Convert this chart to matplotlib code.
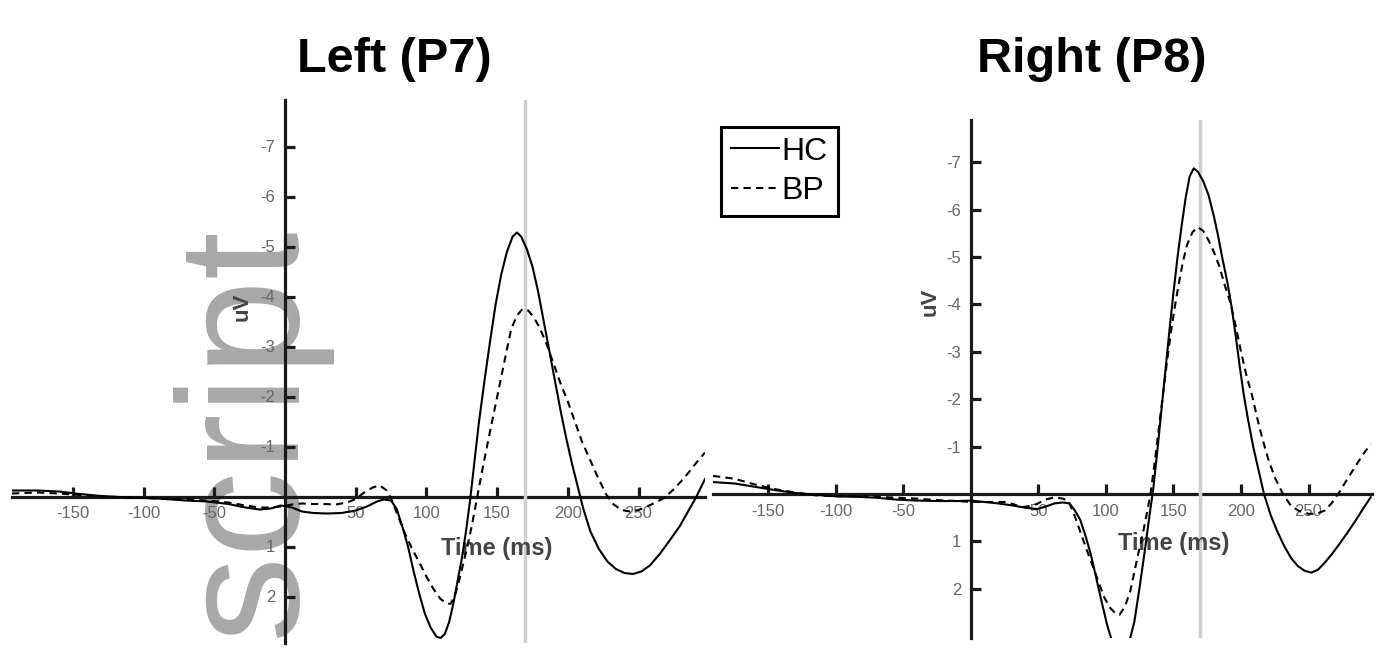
import matplotlib
matplotlib.use("Agg")
import matplotlib.pyplot as plt
from matplotlib.lines import Line2D

plt.rcParams['font.family'] = ['Liberation Sans', 'DejaVu Sans']
plt.rcParams['axes.unicode_minus'] = False

# time (ms) and amplitude (uV)
left_hc_t = [-193, -175, -160, -145, -130, -110, -90, -70, -55, -40, -28, -18, -10, -3, 5, 12, 20, 30, 40, 50,
             58, 65, 70, 75, 79, 83, 87, 91, 95, 99, 103, 107, 110, 113, 116, 119, 122, 125, 128, 131,
             134, 137, 141, 145, 149, 153, 157, 161, 164, 167, 171, 175, 179, 183, 187, 191, 195, 199, 203, 207,
             211, 216, 222, 228, 234, 240, 246, 252, 258, 265, 272, 279, 285, 291, 297]
left_hc_v = [-0.12, -0.12, -0.1, -0.05, -0.01, 0.02, 0.04, 0.08, 0.1, 0.15, 0.22, 0.26, 0.24, 0.18, 0.22, 0.3, 0.33, 0.34, 0.33, 0.28,
             0.2, 0.1, 0.06, 0.08, 0.25, 0.6, 1.0, 1.5, 1.95, 2.35, 2.62, 2.8, 2.83, 2.75, 2.52, 2.15, 1.7, 1.25, 0.7, 0.05,
             -0.7, -1.45, -2.3, -3.1, -3.85, -4.45, -4.9, -5.2, -5.28, -5.2, -4.95, -4.6, -4.1, -3.5, -2.9, -2.3, -1.7, -1.15, -0.65, -0.2,
             0.25, 0.7, 1.05, 1.3, 1.45, 1.53, 1.55, 1.5, 1.38, 1.15, 0.88, 0.6, 0.3, 0.0, -0.35]

left_bp_t = [-193, -175, -160, -145, -130, -110, -90, -70, -55, -40, -28, -18, -10, -3, 5, 12, 20, 28, 36, 44,
             50, 56, 62, 67, 72, 76, 80, 85, 90, 95, 100, 105, 110, 114, 117, 120, 123, 126, 129, 132,
             136, 140, 145, 149, 153, 157, 160, 164, 168, 172, 176, 180, 185, 190, 195, 200, 205, 210, 215, 221,
             227, 232, 238, 244, 250, 256, 262, 268, 274, 280, 286, 291, 297]
left_bp_v = [-0.06, -0.08, -0.06, -0.03, 0.0, 0.02, 0.04, 0.06, 0.08, 0.12, 0.18, 0.22, 0.22, 0.2, 0.16, 0.14, 0.15, 0.15, 0.16, 0.12,
             0.05, -0.08, -0.18, -0.22, -0.12, 0.1, 0.4, 0.75, 1.05, 1.32, 1.6, 1.85, 2.05, 2.13, 2.15, 2.0, 1.7, 1.35, 1.0, 0.6,
             0.0, -0.6, -1.3, -1.85, -2.4, -2.95, -3.35, -3.62, -3.75, -3.72, -3.58, -3.38, -3.05, -2.65, -2.25, -1.9, -1.5, -1.1, -0.78, -0.4,
             -0.05, 0.15, 0.27, 0.3, 0.27, 0.2, 0.12, 0.03, -0.12, -0.3, -0.5, -0.68, -0.88]

right_hc_t = [-191, -175, -160, -145, -130, -115, -100, -85, -70, -55, -40, -25, -10, 0, 10, 20, 30, 40, 49, 56,
              62, 68, 73, 77, 81, 85, 89, 93, 97, 101, 105, 109, 113, 117, 121, 125, 129, 132, 135, 138,
              141, 144, 147, 150, 153, 156, 159, 162, 165, 168, 172, 176, 180, 183, 186, 190, 193, 196, 199, 202,
              205, 209, 213, 217, 222, 227, 232, 237, 242, 247, 252, 257, 262, 267, 272, 278, 284, 290, 296]
right_hc_v = [-0.25, -0.22, -0.15, -0.08, -0.02, 0.02, 0.05, 0.06, 0.08, 0.12, 0.14, 0.15, 0.15, 0.14, 0.17, 0.2, 0.24, 0.29, 0.32, 0.26,
              0.2, 0.18, 0.2, 0.35, 0.55, 0.9, 1.3, 1.8, 2.3, 2.78, 3.15, 3.35, 3.35, 3.15, 2.7, 1.95, 1.15, 0.5, -0.1, -0.9,
              -1.75, -2.6, -3.45, -4.25, -5.0, -5.65, -6.25, -6.7, -6.87, -6.8, -6.6, -6.3, -5.85, -5.45, -5.0, -4.45, -3.95, -3.35, -2.7, -2.1,
              -1.6, -1.0, -0.5, 0.0, 0.45, 0.8, 1.1, 1.35, 1.52, 1.62, 1.66, 1.6, 1.45, 1.28, 1.09, 0.85, 0.6, 0.33, 0.07]

right_bp_t = [-191, -175, -160, -145, -130, -115, -100, -85, -70, -55, -40, -25, -10, 0, 12, 25, 32, 37, 43, 49,
              55, 62, 68, 72, 76, 81, 86, 91, 95, 99, 103, 107, 110, 114, 118, 121, 124, 127, 130, 133,
              136, 139, 142, 145, 148, 151, 154, 157, 160, 164, 168, 172, 176, 180, 184, 188, 192, 196, 200, 204,
              208, 212, 216, 220, 225, 231, 237, 243, 250, 256, 262, 267, 272, 278, 284, 290, 296]
right_bp_v = [-0.38, -0.32, -0.2, -0.1, -0.03, 0.03, 0.05, 0.05, 0.06, 0.08, 0.1, 0.13, 0.15, 0.17, 0.17, 0.17, 0.22, 0.28, 0.26, 0.21,
              0.12, 0.07, 0.1, 0.14, 0.4, 0.8, 1.2, 1.58, 1.9, 2.2, 2.4, 2.52, 2.55, 2.38, 2.05, 1.65, 1.25, 0.88, 0.45, 0.0,
              -0.65, -1.35, -2.05, -2.75, -3.4, -3.95, -4.45, -4.9, -5.25, -5.52, -5.63, -5.55, -5.35, -5.1, -4.8, -4.4, -4.05, -3.55, -3.0, -2.5,
              -2.1, -1.6, -1.15, -0.75, -0.35, 0.0, 0.25, 0.36, 0.42, 0.42, 0.35, 0.2, 0.0, -0.28, -0.55, -0.82, -1.05]

xticks = [-150, -100, -50, 50, 100, 150, 200, 250]
yticks = [-7, -6, -5, -4, -3, -2, -1, 1, 2]
marker_ms = 170

W, H = 1384, 656
fig = plt.figure(figsize=(W / 100, H / 100), dpi=100)

# watermark behind the axes
fig.text(294 / W, 1 - 638 / H, 'script', rotation=90, rotation_mode='anchor',
         ha='left', va='baseline', fontsize=124, color='#a8a8a8', zorder=-1)


def panel(rect, xlim, ylim, hc_t, hc_v, bp_t, bp_v):
    ax = fig.add_axes(rect)
    ax.patch.set_visible(False)
    ax.plot(hc_t, hc_v, color='black', lw=1.5, zorder=4)
    ax.plot(bp_t, bp_v, color='black', lw=1.5, dashes=(3.5, 2.5), zorder=4)
    ax.axvline(marker_ms, color='#cfcfcf', lw=2.5, zorder=3)
    ax.set_xlim(xlim)
    ax.set_ylim(ylim)
    for s in ['top', 'right']:
        ax.spines[s].set_visible(False)
    for s in ['left', 'bottom']:
        ax.spines[s].set_position(('data', 0))
        ax.spines[s].set_linewidth(2.3)
        ax.spines[s].set_color('#1a1a1a')
    ax.set_xticks(xticks)
    ax.set_yticks(yticks)
    ax.tick_params(direction='in', length=7, width=2.3, color='#1a1a1a',
                   labelsize=12, labelcolor='#666666', pad=7)
    ax.text(150, 1.05, 'Time (ms)', ha='center', va='center', fontsize=17,
            fontweight='bold', color='#444444')
    return ax


axl = panel([12 / W, 1 - 643 / H, 693 / W, 543 / H], (-193, 297), (2.93, -7.93),
            left_hc_t, left_hc_v, left_bp_t, left_bp_v)
axl.text(-30, -3.8, 'uV', rotation=90, ha='center', va='center', fontsize=16,
         fontweight='bold', color='#444444')

axr = panel([713 / W, 1 - 638 / H, 659 / W, 518 / H], (-191, 297), (3.04, -7.89),
            right_hc_t, right_hc_v, right_bp_t, right_bp_v)
axr.text(-30, -4.05, 'uV', rotation=90, ha='center', va='center', fontsize=16,
         fontweight='bold', color='#444444')

fig.text(394 / W, 1 - 60 / H, 'Left (P7)', ha='center', va='center', fontsize=35, fontweight='bold')
fig.text(1092 / W, 1 - 60 / H, 'Right (P8)', ha='center', va='center', fontsize=35, fontweight='bold')

handles = [Line2D([], [], color='black', lw=1.5),
           Line2D([], [], color='black', lw=1.5, dashes=(3.5, 2.5))]
leg = fig.legend(handles, ['HC', 'BP'], loc='upper left', bbox_to_anchor=(721 / W, 1 - 127 / H),
                 fontsize=23, handlelength=1.5, handletextpad=0.1, borderpad=0.3,
                 labelspacing=0.3, borderaxespad=0, fancybox=False, framealpha=1,
                 edgecolor='black')
leg.get_frame().set_linewidth(2.2)

fig.savefig('out.png', dpi=100)
